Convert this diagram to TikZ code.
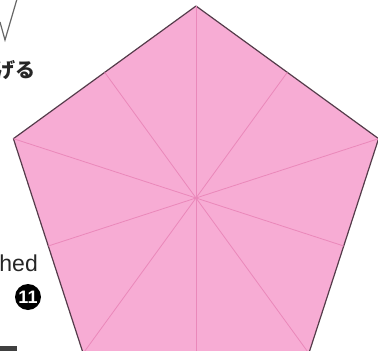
\documentclass[tikz,border=0pt]{standalone}
\usepackage{fontspec}
\usetikzlibrary{calc}
\setmainfont{Liberation Sans}
\newfontfamily\cjk{Noto Sans CJK JP}
\begin{document}
\begin{tikzpicture}[x=1pt,y=-1pt,
  paper/.style={fill=pinkfill,draw=edgecol,line width=1.2pt,line join=round},
  crease/.style={draw=creasecol,line width=0.8pt},
  marktext/.style={inner sep=0pt,text=black!85}]
\definecolor{pinkfill}{RGB}{247,172,212}
\definecolor{creasecol}{RGB}{234,136,186}
\definecolor{edgecol}{RGB}{85,60,75}
\useasboundingbox (0,0) rectangle (378,351);
\clip (0,0) rectangle (378,351);
\coordinate (C) at (196,198);
\foreach \k in {0,...,4}{
  \coordinate (V\k) at ({196+192*cos(90+72*\k)},{198-192*sin(90+72*\k)});
}
\draw[paper] (V0) -- (V1) -- (V2) -- (V3) -- (V4) -- cycle;
\foreach \k in {0,...,4}{
  \draw[crease] (C) -- (V\k);
}
\draw[crease] (C) -- ($(V0)!0.5!(V1)$);
\draw[crease] (C) -- ($(V1)!0.5!(V2)$);
\draw[crease] (C) -- ($(V2)!0.5!(V3)$);
\draw[crease] (C) -- ($(V3)!0.5!(V4)$);
\draw[crease] (C) -- ($(V4)!0.5!(V0)$);
% top-left stroke
\coordinate (s1) at (0,22);
\coordinate (s2) at (5,40);
\coordinate (s3) at (17,-1);
\draw[black!60,line width=1.2pt] (s1) -- (s2) -- (s3);
% texts
\node[marktext,anchor=east,font=\cjk\bfseries\fontsize{20}{20}\selectfont] (jp) at (36,70) {げる};
\node[marktext,anchor=base east,font=\fontsize{23}{23}\selectfont] (en) at (38,271) {hed};
\node[circle,fill=black,minimum size=26pt,inner sep=0pt,text=white,font=\bfseries\fontsize{18}{18}\selectfont] (n11) at (28,297) {11};
\fill[black!75] (0,346) rectangle (17,351);
\end{tikzpicture}
\end{document}
